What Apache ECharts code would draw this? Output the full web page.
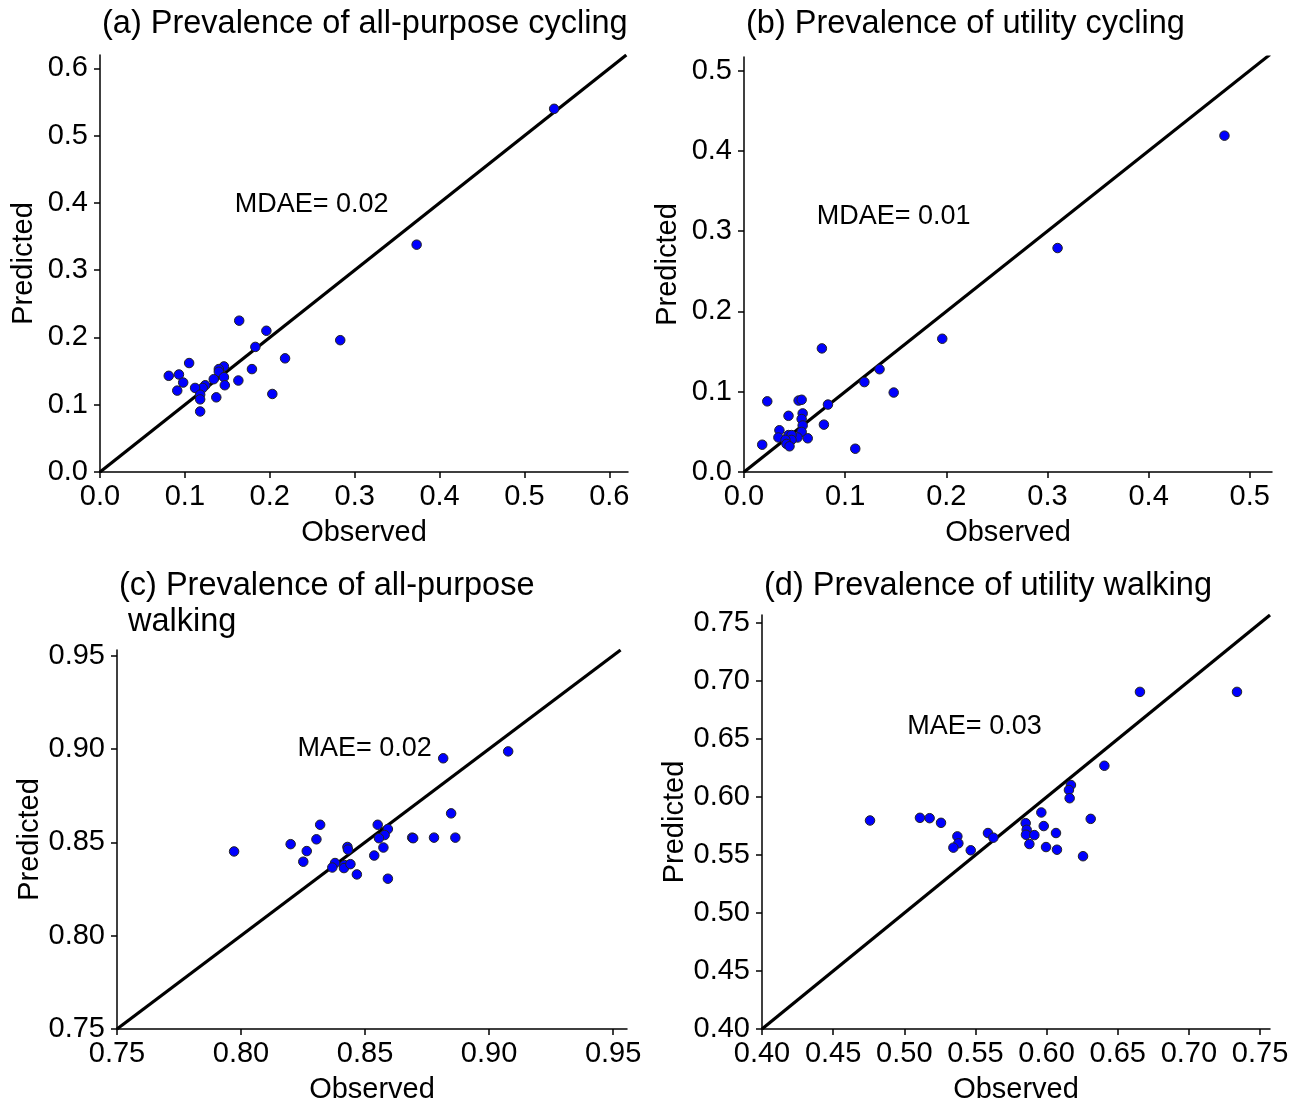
<!DOCTYPE html>
<html>
<head>
<meta charset="utf-8">
<script src="https://cdn.jsdelivr.net/npm/echarts@6/dist/echarts.min.js"></script>
<style>
html,body{margin:0;padding:0;background:#fff;}
#chart{width:1303px;height:1105px;}
</style>
</head>
<body>
<div id="chart"></div>
<script>
// ---- Data ----
const titles = [
  '(a) Prevalence of all-purpose cycling',
  '(b) Prevalence of utility cycling',
  '(c) Prevalence of all-purpose\n walking',
  '(d) Prevalence of utility walking'
];
const annotations = ['MDAE= 0.02', 'MDAE= 0.01', 'MAE= 0.02', 'MAE= 0.03'];
const annotationPos = [[0.25, 0.397], [0.1485, 0.318], [0.850, 0.900], [0.5497, 0.660]];

const aObs  = [0.164,0.196,0.183,0.218,0.179,0.203,0.163,0.146,0.140,0.140,0.146,0.147,0.134,0.137,0.124,0.121,0.112,0.118,0.118,0.118,0.105,0.093,0.081,0.098,0.091,0.283,0.373,0.535];
const aPred = [0.225,0.210,0.186,0.169,0.153,0.116,0.136,0.157,0.153,0.149,0.141,0.129,0.138,0.111,0.129,0.125,0.125,0.115,0.108,0.090,0.162,0.145,0.143,0.133,0.121,0.196,0.338,0.540];

const bObs  = [0.077,0.134,0.119,0.148,0.083,0.079,0.110,0.023,0.054,0.057,0.044,0.058,0.057,0.058,0.057,0.063,0.053,0.035,0.034,0.044,0.047,0.047,0.041,0.042,0.045,0.018,0.310,0.196,0.475];
const bPred = [0.154,0.128,0.112,0.099,0.084,0.059,0.029,0.088,0.089,0.090,0.070,0.073,0.066,0.058,0.050,0.042,0.043,0.052,0.043,0.046,0.046,0.040,0.040,0.035,0.032,0.034,0.279,0.166,0.419];

const cObs  = [0.8847,0.8551,0.8592,0.8579,0.8556,0.8574,0.8537,0.8592,0.8690,0.8694,0.8778,0.8864,0.8319,0.8304,0.8200,0.8265,0.8251,0.7972,0.8429,0.8431,0.8379,0.8368,0.8417,0.8415,0.8441,0.8467,0.8815,0.9077];
const cPred = [0.8655,0.8594,0.8571,0.8539,0.8522,0.8472,0.8429,0.8305,0.8525,0.8522,0.8525,0.8525,0.8594,0.8516,0.8490,0.8453,0.8396,0.8451,0.8475,0.8461,0.8389,0.8365,0.8378,0.8362,0.8383,0.8328,0.8950,0.8987];

const dObs  = [0.6406,0.6171,0.6157,0.6162,0.6310,0.5963,0.5853,0.5980,0.5860,0.5855,0.5914,0.6066,0.5879,0.5996,0.6073,0.6256,0.5588,0.5626,0.5467,0.5373,0.5380,0.5345,0.5258,0.5178,0.5110,0.4759,0.6656,0.7338];
const dPred = [0.6270,0.6104,0.6061,0.5990,0.5812,0.5867,0.5775,0.5750,0.5718,0.5675,0.5672,0.5690,0.5595,0.5569,0.5546,0.5490,0.5690,0.5650,0.5541,0.5661,0.5601,0.5564,0.5778,0.5818,0.5821,0.5798,0.6907,0.6907];

// axis ranges and tick steps
const xMin = [0, 0, 0.75, 0.40];
const xMax = [0.622, 0.522, 0.9556, 0.757];
const yMin = [0, 0, 0.75, 0.40];
const yMax = [0.620, 0.517, 0.953, 0.757];
const tickStep = [0.1, 0.1, 0.05, 0.05];
const tickDecimals = [1, 1, 2, 2];
// 1:1 reference line endpoints
const diag = [[0, 0.62], [0, 0.52], [0.75, 0.953], [0.40, 0.757]];

const obs = [aObs, bObs, cObs, dObs];
const pred = [aPred, bPred, cPred, dPred];

// ---- Layout ----
const grids = [
  {left: 100, top: 55,  width: 528, height: 417},
  {left: 744, top: 57,  width: 528, height: 415},
  {left: 117, top: 650, width: 510, height: 381},
  {left: 762, top: 615, width: 508, height: 416}
];
const FONT = 'Liberation Sans, Arial, sans-serif';

const option = {
  animation: false,
  backgroundColor: '#fff',
  title: titles.map((t, i) => ({
    text: t,
    left: grids[i].left - 3,
    top: i < 2 ? 1 : 563,
    textStyle: {fontFamily: FONT, fontSize: 32.5, fontWeight: 'normal', color: '#000', lineHeight: 36}
  })),
  grid: grids,
  xAxis: grids.map((g, i) => ({
    type: 'value', gridIndex: i, min: xMin[i], max: xMax[i], interval: tickStep[i],
    name: 'Observed', nameLocation: 'middle', nameGap: 46,
    nameTextStyle: {fontFamily: FONT, fontSize: 29, color: '#000'},
    axisLine: {show: true, onZero: false, lineStyle: {color: '#000', width: 1.5}},
    axisTick: {show: true, length: 6, lineStyle: {color: '#000', width: 1.5}},
    axisLabel: {show: true, fontFamily: FONT, fontSize: 29, color: '#000', margin: 10, showMaxLabel: false,
      formatter: v => v.toFixed(tickDecimals[i])},
    splitLine: {show: false}
  })),
  yAxis: grids.map((g, i) => ({
    type: 'value', gridIndex: i, min: yMin[i], max: yMax[i], interval: tickStep[i],
    name: 'Predicted', nameLocation: 'middle', nameGap: 62, nameRotate: 90,
    nameTextStyle: {fontFamily: FONT, fontSize: 29, color: '#000'},
    axisLine: {show: true, onZero: false, lineStyle: {color: '#000', width: 1.5}},
    axisTick: {show: true, length: 6, lineStyle: {color: '#000', width: 1.5}},
    axisLabel: {show: true, fontFamily: FONT, fontSize: 29, color: '#000', margin: 12, showMaxLabel: false,
      formatter: v => v.toFixed(tickDecimals[i])},
    splitLine: {show: false}
  })),
  series: []
};

for (let i = 0; i < 4; i++) {
  option.series.push({
    type: 'line', xAxisIndex: i, yAxisIndex: i,
    data: diag[i].map(v => [v, v]),
    symbol: 'none', lineStyle: {color: '#000', width: 3.2}, z: 2
  });
  option.series.push({
    type: 'scatter', xAxisIndex: i, yAxisIndex: i,
    data: obs[i].map((v, k) => [v, pred[i][k]]),
    symbol: 'circle', symbolSize: 9.5,
    itemStyle: {color: '#0000ff', borderColor: '#222', borderWidth: 1, opacity: 1},
    z: 3
  });
  option.series.push({
    type: 'scatter', xAxisIndex: i, yAxisIndex: i,
    data: [annotationPos[i]], symbolSize: 1, silent: true,
    itemStyle: {color: 'rgba(0,0,0,0)'},
    label: {show: true, position: [0, 0], align: 'center', verticalAlign: 'middle',
      formatter: annotations[i], fontFamily: FONT, fontSize: 27, color: '#000', opacity: 1},
    z: 4
  });
}

const chart = echarts.init(document.getElementById('chart'), null, {renderer: 'canvas'});
chart.setOption(option);
</script>
</body>
</html>
